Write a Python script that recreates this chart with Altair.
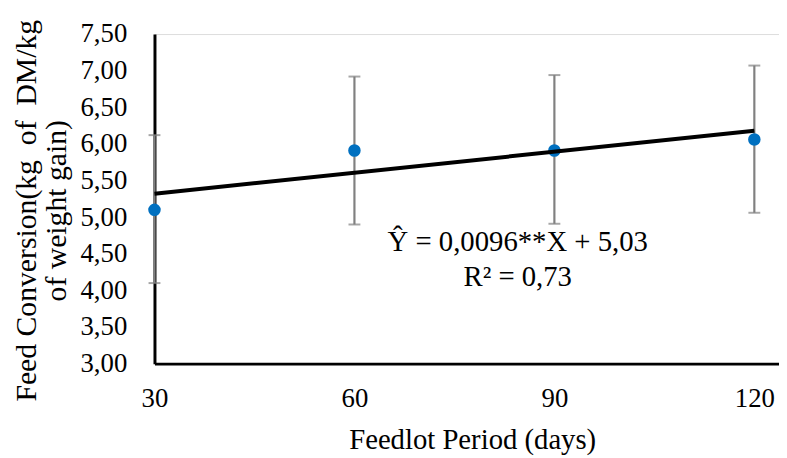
import altair as alt
import pandas as pd

days = [30, 60, 90, 120]
means = [5.10, 5.91, 5.91, 6.06]
lower = [4.10, 4.90, 4.91, 5.06]
upper = [6.12, 6.92, 6.94, 7.07]
trend_x = [30, 120]
trend_y = [5.32, 6.18]
y_ticks = [3.0, 3.5, 4.0, 4.5, 5.0, 5.5, 6.0, 6.5, 7.0, 7.5]
x_ticks = [30, 60, 90, 120]
eq_lines = ["Ŷ = 0,0096**X + 5,03", "R² = 0,73"]
eq_x = [84.5, 84.5]
eq_y = [4.66, 4.18]

FONT = "Liberation Serif"

df = pd.DataFrame({"days": days, "mean": means, "lo": lower, "hi": upper})
trend = pd.DataFrame({"days": trend_x, "fc": trend_y})
eq = pd.DataFrame({"t": eq_lines, "x": eq_x, "y": eq_y})

xscale = alt.Scale(domain=[30, 123.7], nice=False, zero=False)
yscale = alt.Scale(domain=[3.0, 7.5], nice=False, zero=False)

xaxis = alt.Axis(
    values=x_ticks, grid=False, ticks=False, domainColor="black", domainWidth=3,
    labelFont=FONT, labelFontSize=27, labelColor="black", labelPadding=22,
    labelBaseline="top", labelFlush=False, labelOverlap=False,
    title="Feedlot Period (days)", titleFont=FONT, titleFontSize=29,
    titleFontWeight="normal", titleColor="black", titleBaseline="top",
    titleY=63, titleX=321, titleAlign="center",
)
yaxis = alt.Axis(
    values=y_ticks, grid=False, ticks=False, domainColor="black", domainWidth=3,
    labelFont=FONT, labelFontSize=27, labelColor="black", labelPadding=28,
    labelOverlap=False, labelFlush=False,
    labelExpr="replace(format(datum.value, '.2f'), '.', ',')",
    title=["Feed Conversion(kg\u00a0 of\u00a0 DM/kg", "of weight gain)"],
    titleFont=FONT, titleFontSize=30, titleFontWeight="normal", titleColor="black",
    titleLineHeight=30, titleBaseline="top", titleAngle=-90, titleAlign="center",
    titleX=-144, titleY=178,
)

def X(field):
    return alt.X(field, scale=xscale, axis=xaxis)

def Y(field):
    return alt.Y(field, scale=yscale, axis=yaxis)

base = alt.Chart(df)
bars = base.mark_rule(color="#808080", strokeWidth=2.2).encode(
    x=X("days:Q"), y=Y("lo:Q"), y2="hi:Q",
)
caps_lo = base.mark_tick(color="#808080", orient="horizontal", size=12, thickness=2).encode(
    x=X("days:Q"), y=Y("lo:Q")
)
caps_hi = base.mark_tick(color="#808080", orient="horizontal", size=12, thickness=2).encode(
    x=X("days:Q"), y=Y("hi:Q")
)
pts = base.mark_point(filled=True, shape="circle", size=160, color="#0070C0", opacity=1).encode(
    x=X("days:Q"), y=Y("mean:Q")
)
line = alt.Chart(trend).mark_line(color="black", strokeWidth=4).encode(
    x=X("days:Q"), y=Y("fc:Q")
)
text = alt.Chart(eq).mark_text(font=FONT, fontSize=29, color="black", baseline="middle", align="center").encode(
    x=X("x:Q"), y=Y("y:Q"), text="t:N"
)

chart = alt.layer(bars, caps_lo, caps_hi, pts, line, text).properties(
    width=631, height=333,
    autosize=alt.AutoSizeParams(type="none"),
    padding={"left": 148, "top": 24, "right": 0, "bottom": 93},
).configure_view(stroke=None).configure(background="white").configure_axis(
    labelOverlap=False
)

chart.save("out.html", embed_options={"renderer": "svg", "actions": False})
